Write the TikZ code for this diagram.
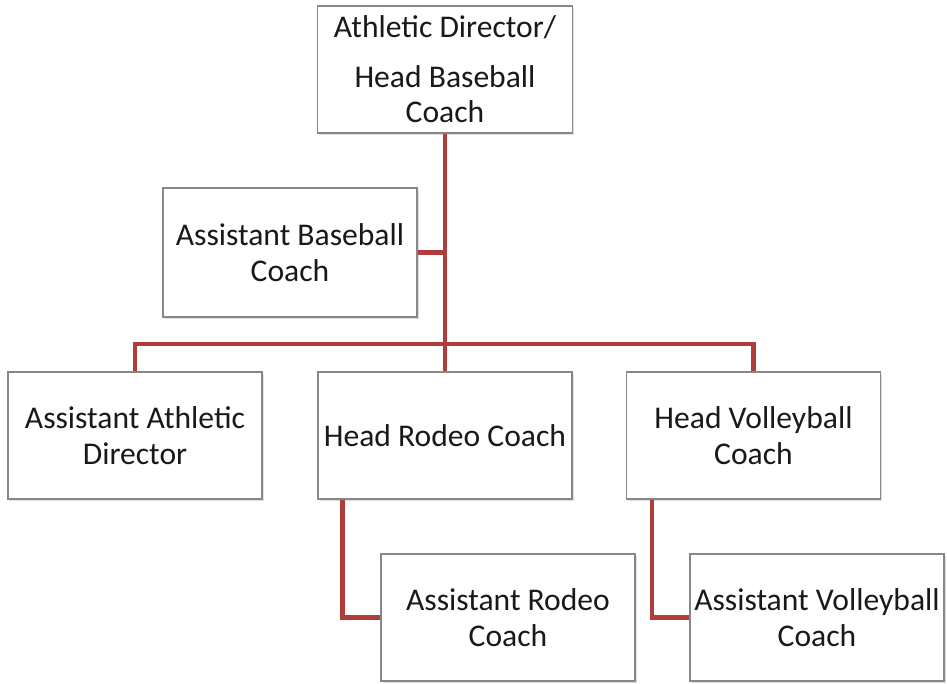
\documentclass[tikz,border=0pt]{standalone}
\usepackage{fontspec}
\setmainfont{Carlito}
\usetikzlibrary{shadows}
\definecolor{linkred}{RGB}{176,60,60}
\definecolor{boxgray}{RGB}{135,135,135}
\definecolor{textdark}{RGB}{25,25,25}
\begin{document}
\begin{tikzpicture}[x=1pt,y=1pt,
  orgbox/.style={draw=boxgray, line width=1.2pt, fill=white, rectangle,
    minimum width=254pt, minimum height=127pt, inner sep=1pt, align=center,
    text=textdark, font=\fontsize{31.6}{35.5}\selectfont,
    drop shadow={opacity=0.25, shadow xshift=1.5pt, shadow yshift=-2pt}},
  link/.style={draw=linkred, line width=4.5pt}]
\useasboundingbox (0,0) rectangle (947,-684);
\coordinate (busL) at (135,-344);
\coordinate (busR) at (753.5,-344);
% nodes
\node[orgbox, minimum width=255pt] (top) at (445,-69.5) {Athletic Director/\\[14pt]Head Baseball\\Coach};
\node[orgbox, minimum height=129pt] (ab) at (290,-252.5) {Assistant Baseball\\Coach};
\node[orgbox] (aad) at (135,-435.5) {Assistant Athletic\\Director};
\node[orgbox] (hr) at (445,-435.5) {Head Rodeo Coach};
\node[orgbox] (hv) at (753.5,-435.5) {Head Volleyball\\Coach};
\node[orgbox] (ar) at (508,-617.5) {Assistant Rodeo\\Coach};
\node[orgbox] (av) at (817,-617.5) {Assistant Volleyball\\Coach};
% connectors
\coordinate (busC) at (top.south |- busL);
\coordinate (hrdrop) at ([xshift=25pt]hr.south west);
\coordinate (hvdrop) at ([xshift=26pt]hv.south west);
\draw[link] (top.south) -- (busC);
\draw[link] (ab.east) -- (ab.east -| top.south);
\draw[link, line cap=rect] (busL) -- (busR);
\draw[link] (busL) -- (aad.north);
\draw[link] (busC) -- (hr.north);
\draw[link] (busR) -- (hv.north);
\draw[link, line join=miter] (hrdrop) -- (hrdrop |- ar.west) -- (ar.west);
\draw[link, line join=miter] (hvdrop) -- (hvdrop |- av.west) -- (av.west);
\end{tikzpicture}
\end{document}
